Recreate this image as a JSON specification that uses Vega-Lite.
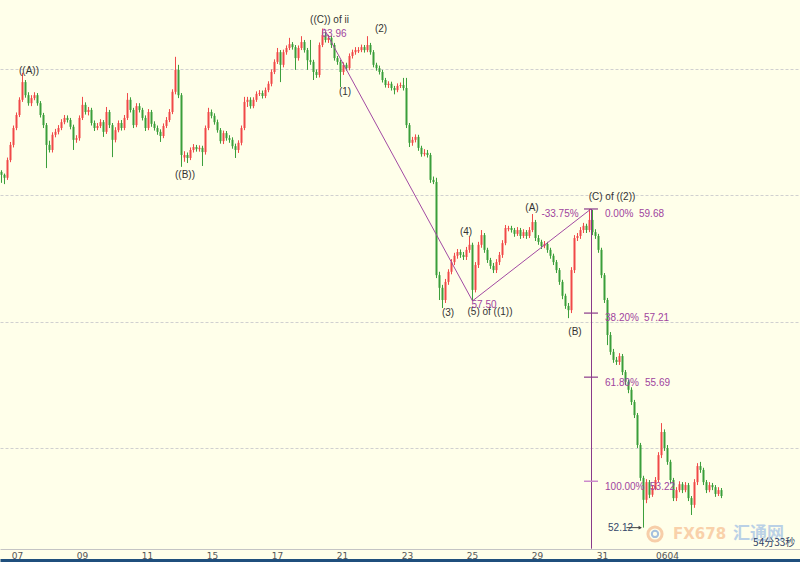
{
"$schema": "https://vega.github.io/schema/vega-lite/v6.json",
"width": 800, "height": 549,
"autosize": {"type": "none"},
"padding": {"left": 0, "top": 0, "right": 0, "bottom": 13},
"background": "#FFFFEA",
"config": {"view": {"stroke": null}, "font": "Liberation Sans"},
"datasets": {
"candles": [
{"i":0,"o":60.56,"h":60.60,"l":60.30,"c":60.49},
{"i":1,"o":60.49,"h":60.52,"l":60.27,"c":60.42},
{"i":2,"o":60.42,"h":60.90,"l":60.37,"c":60.84},
{"i":3,"o":60.84,"h":61.27,"l":60.79,"c":61.20},
{"i":4,"o":61.20,"h":61.66,"l":61.14,"c":61.60},
{"i":5,"o":61.60,"h":61.97,"l":61.55,"c":61.91},
{"i":6,"o":61.91,"h":62.33,"l":61.86,"c":62.27},
{"i":7,"o":62.27,"h":62.91,"l":62.22,"c":62.69},
{"i":8,"o":62.69,"h":62.74,"l":62.32,"c":62.38},
{"i":9,"o":62.38,"h":62.45,"l":62.13,"c":62.19},
{"i":10,"o":62.19,"h":62.38,"l":62.12,"c":62.31},
{"i":11,"o":62.31,"h":62.45,"l":62.26,"c":62.38},
{"i":12,"o":62.38,"h":62.43,"l":62.13,"c":62.19},
{"i":13,"o":62.19,"h":62.24,"l":61.85,"c":61.91},
{"i":14,"o":61.91,"h":61.96,"l":61.60,"c":61.67},
{"i":15,"o":61.67,"h":61.72,"l":60.65,"c":61.20},
{"i":16,"o":61.20,"h":61.30,"l":61.02,"c":61.08},
{"i":17,"o":61.08,"h":61.50,"l":61.02,"c":61.44},
{"i":18,"o":61.44,"h":61.58,"l":61.38,"c":61.51},
{"i":19,"o":61.51,"h":61.67,"l":61.45,"c":61.60},
{"i":20,"o":61.60,"h":61.81,"l":61.55,"c":61.74},
{"i":21,"o":61.74,"h":61.91,"l":61.69,"c":61.84},
{"i":22,"o":61.84,"h":61.90,"l":61.73,"c":61.79},
{"i":23,"o":61.79,"h":61.84,"l":61.57,"c":61.63},
{"i":24,"o":61.63,"h":61.68,"l":61.08,"c":61.32},
{"i":25,"o":61.32,"h":61.43,"l":61.25,"c":61.36},
{"i":26,"o":61.36,"h":61.90,"l":61.30,"c":61.84},
{"i":27,"o":61.84,"h":62.34,"l":61.79,"c":62.15},
{"i":28,"o":62.15,"h":62.21,"l":61.92,"c":61.98},
{"i":29,"o":61.98,"h":62.10,"l":61.90,"c":62.03},
{"i":30,"o":62.03,"h":62.08,"l":61.66,"c":61.72},
{"i":31,"o":61.72,"h":61.78,"l":61.53,"c":61.60},
{"i":32,"o":61.60,"h":61.72,"l":61.55,"c":61.65},
{"i":33,"o":61.65,"h":61.81,"l":61.60,"c":61.74},
{"i":34,"o":61.74,"h":61.79,"l":61.39,"c":61.51},
{"i":35,"o":61.51,"h":62.10,"l":61.46,"c":61.98},
{"i":36,"o":61.98,"h":62.03,"l":61.60,"c":61.67},
{"i":37,"o":61.67,"h":61.72,"l":60.91,"c":61.32},
{"i":38,"o":61.32,"h":61.62,"l":61.26,"c":61.55},
{"i":39,"o":61.55,"h":61.78,"l":61.50,"c":61.72},
{"i":40,"o":61.72,"h":61.79,"l":61.54,"c":61.60},
{"i":41,"o":61.60,"h":61.91,"l":61.55,"c":61.84},
{"i":42,"o":61.84,"h":62.43,"l":61.79,"c":62.27},
{"i":43,"o":62.27,"h":62.33,"l":61.97,"c":62.03},
{"i":44,"o":62.03,"h":62.08,"l":61.60,"c":61.67},
{"i":45,"o":61.67,"h":62.19,"l":61.62,"c":62.12},
{"i":46,"o":62.12,"h":62.19,"l":61.97,"c":62.03},
{"i":47,"o":62.03,"h":62.08,"l":61.78,"c":61.84},
{"i":48,"o":61.84,"h":61.90,"l":61.53,"c":61.60},
{"i":49,"o":61.60,"h":62.05,"l":61.55,"c":61.98},
{"i":50,"o":61.98,"h":62.03,"l":61.63,"c":61.70},
{"i":51,"o":61.70,"h":61.76,"l":61.54,"c":61.60},
{"i":52,"o":61.60,"h":61.66,"l":61.44,"c":61.51},
{"i":53,"o":61.51,"h":61.57,"l":61.27,"c":61.41},
{"i":54,"o":61.41,"h":61.71,"l":61.36,"c":61.65},
{"i":55,"o":61.65,"h":61.86,"l":61.60,"c":61.79},
{"i":56,"o":61.79,"h":62.05,"l":61.74,"c":61.98},
{"i":57,"o":61.98,"h":62.52,"l":61.93,"c":62.46},
{"i":58,"o":62.46,"h":63.29,"l":62.40,"c":62.98},
{"i":59,"o":62.98,"h":63.10,"l":62.31,"c":62.38},
{"i":60,"o":62.38,"h":62.43,"l":60.68,"c":60.96},
{"i":61,"o":60.90,"h":61.05,"l":60.80,"c":60.96},
{"i":62,"o":60.96,"h":61.02,"l":60.77,"c":60.89},
{"i":63,"o":60.89,"h":61.14,"l":60.84,"c":61.08},
{"i":64,"o":61.08,"h":61.22,"l":61.02,"c":61.15},
{"i":65,"o":61.15,"h":61.20,"l":61.04,"c":61.10},
{"i":66,"o":61.10,"h":61.19,"l":61.04,"c":61.13},
{"i":67,"o":61.13,"h":61.18,"l":60.70,"c":61.03},
{"i":68,"o":61.03,"h":61.66,"l":60.97,"c":61.60},
{"i":69,"o":61.60,"h":62.08,"l":61.55,"c":61.98},
{"i":70,"o":61.98,"h":62.04,"l":61.83,"c":61.89},
{"i":71,"o":61.89,"h":61.95,"l":61.68,"c":61.74},
{"i":72,"o":61.74,"h":61.80,"l":61.49,"c":61.55},
{"i":73,"o":61.55,"h":61.60,"l":61.23,"c":61.29},
{"i":74,"o":61.29,"h":61.54,"l":61.22,"c":61.48},
{"i":75,"o":61.48,"h":61.53,"l":61.30,"c":61.36},
{"i":76,"o":61.36,"h":61.43,"l":61.25,"c":61.32},
{"i":77,"o":61.32,"h":61.38,"l":61.11,"c":61.17},
{"i":78,"o":61.17,"h":61.23,"l":60.89,"c":61.08},
{"i":79,"o":61.08,"h":61.31,"l":61.01,"c":61.25},
{"i":80,"o":61.25,"h":61.66,"l":61.19,"c":61.60},
{"i":81,"o":61.60,"h":62.34,"l":61.55,"c":62.22},
{"i":82,"o":62.22,"h":62.34,"l":62.10,"c":62.27},
{"i":83,"o":62.27,"h":62.33,"l":62.06,"c":62.12},
{"i":84,"o":62.12,"h":62.33,"l":62.07,"c":62.27},
{"i":85,"o":62.27,"h":62.47,"l":62.22,"c":62.41},
{"i":86,"o":62.41,"h":62.50,"l":62.36,"c":62.43},
{"i":87,"o":62.43,"h":62.49,"l":62.30,"c":62.36},
{"i":88,"o":62.36,"h":62.56,"l":62.31,"c":62.50},
{"i":89,"o":62.50,"h":62.71,"l":62.45,"c":62.65},
{"i":90,"o":62.65,"h":62.99,"l":62.59,"c":62.93},
{"i":91,"o":62.93,"h":63.23,"l":62.88,"c":63.17},
{"i":92,"o":63.17,"h":63.50,"l":63.12,"c":63.40},
{"i":93,"o":63.40,"h":63.45,"l":62.69,"c":63.10},
{"i":94,"o":63.10,"h":63.46,"l":63.04,"c":63.40},
{"i":95,"o":63.40,"h":63.56,"l":63.34,"c":63.50},
{"i":96,"o":63.50,"h":63.74,"l":63.45,"c":63.59},
{"i":97,"o":63.59,"h":63.64,"l":63.46,"c":63.52},
{"i":98,"o":63.52,"h":63.57,"l":62.98,"c":63.26},
{"i":99,"o":63.26,"h":63.56,"l":63.20,"c":63.50},
{"i":100,"o":63.50,"h":63.78,"l":63.45,"c":63.64},
{"i":101,"o":63.64,"h":63.69,"l":63.39,"c":63.45},
{"i":102,"o":63.45,"h":63.50,"l":62.98,"c":63.21},
{"i":103,"o":63.21,"h":63.69,"l":63.10,"c":63.17},
{"i":104,"o":63.17,"h":63.22,"l":62.74,"c":62.93},
{"i":105,"o":62.93,"h":62.99,"l":62.79,"c":62.86},
{"i":106,"o":62.86,"h":63.63,"l":62.80,"c":63.57},
{"i":107,"o":63.57,"h":63.96,"l":63.52,"c":63.81},
{"i":108,"o":63.81,"h":63.88,"l":63.63,"c":63.69},
{"i":109,"o":63.69,"h":63.81,"l":63.62,"c":63.74},
{"i":110,"o":63.74,"h":63.79,"l":63.50,"c":63.57},
{"i":111,"o":63.57,"h":63.62,"l":63.20,"c":63.26},
{"i":112,"o":63.26,"h":63.31,"l":63.10,"c":63.17},
{"i":113,"o":63.17,"h":63.22,"l":62.57,"c":62.93},
{"i":114,"o":62.93,"h":63.16,"l":62.86,"c":63.10},
{"i":115,"o":63.10,"h":63.15,"l":62.96,"c":63.02},
{"i":116,"o":63.02,"h":63.37,"l":62.97,"c":63.31},
{"i":117,"o":63.31,"h":63.46,"l":63.25,"c":63.40},
{"i":118,"o":63.40,"h":63.52,"l":63.34,"c":63.45},
{"i":119,"o":63.42,"h":63.52,"l":63.38,"c":63.45},
{"i":120,"o":63.45,"h":63.58,"l":63.40,"c":63.52},
{"i":121,"o":63.52,"h":63.57,"l":63.39,"c":63.45},
{"i":122,"o":63.45,"h":63.78,"l":63.40,"c":63.57},
{"i":123,"o":63.57,"h":63.62,"l":63.34,"c":63.40},
{"i":124,"o":63.40,"h":63.45,"l":63.04,"c":63.10},
{"i":125,"o":63.10,"h":63.15,"l":62.96,"c":63.02},
{"i":126,"o":63.02,"h":63.08,"l":62.87,"c":62.93},
{"i":127,"o":62.93,"h":62.98,"l":62.68,"c":62.74},
{"i":128,"o":62.74,"h":62.79,"l":62.56,"c":62.62},
{"i":129,"o":62.62,"h":62.71,"l":62.55,"c":62.65},
{"i":130,"o":62.65,"h":62.70,"l":62.49,"c":62.55},
{"i":131,"o":62.55,"h":62.60,"l":62.40,"c":62.50},
{"i":132,"o":62.50,"h":62.66,"l":62.45,"c":62.60},
{"i":133,"o":62.60,"h":62.68,"l":62.55,"c":62.62},
{"i":134,"o":62.62,"h":62.79,"l":62.49,"c":62.55},
{"i":135,"o":62.55,"h":62.79,"l":61.60,"c":61.67},
{"i":136,"o":61.67,"h":61.72,"l":61.15,"c":61.25},
{"i":137,"o":61.25,"h":61.39,"l":61.18,"c":61.32},
{"i":138,"o":61.32,"h":61.45,"l":61.26,"c":61.39},
{"i":139,"o":61.39,"h":61.44,"l":61.06,"c":61.13},
{"i":140,"o":61.13,"h":61.18,"l":60.92,"c":60.98},
{"i":141,"o":60.98,"h":61.10,"l":60.93,"c":61.01},
{"i":142,"o":61.01,"h":61.08,"l":60.90,"c":60.96},
{"i":143,"o":60.96,"h":61.01,"l":60.30,"c":60.37},
{"i":144,"o":60.37,"h":60.45,"l":60.27,"c":60.32},
{"i":145,"o":60.32,"h":60.42,"l":58.04,"c":58.11},
{"i":146,"o":58.11,"h":58.19,"l":57.52,"c":57.81},
{"i":147,"o":57.81,"h":57.88,"l":57.33,"c":57.52},
{"i":148,"o":57.52,"h":58.02,"l":57.45,"c":57.95},
{"i":149,"o":57.95,"h":58.25,"l":57.88,"c":58.19},
{"i":150,"o":58.19,"h":58.49,"l":58.13,"c":58.42},
{"i":151,"o":58.42,"h":58.64,"l":58.35,"c":58.57},
{"i":152,"o":58.57,"h":58.73,"l":58.50,"c":58.66},
{"i":153,"o":58.66,"h":58.72,"l":58.52,"c":58.59},
{"i":154,"o":58.59,"h":58.66,"l":58.47,"c":58.54},
{"i":155,"o":58.54,"h":58.78,"l":58.47,"c":58.71},
{"i":156,"o":58.71,"h":59.02,"l":58.64,"c":58.83},
{"i":157,"o":58.83,"h":58.88,"l":57.50,"c":57.76},
{"i":158,"o":57.76,"h":58.42,"l":57.70,"c":58.35},
{"i":159,"o":58.35,"h":58.90,"l":58.28,"c":58.83},
{"i":160,"o":58.83,"h":59.18,"l":58.76,"c":59.06},
{"i":161,"o":59.06,"h":59.11,"l":58.64,"c":58.71},
{"i":162,"o":58.71,"h":58.76,"l":58.40,"c":58.47},
{"i":163,"o":58.47,"h":58.52,"l":58.26,"c":58.33},
{"i":164,"o":58.33,"h":58.40,"l":58.16,"c":58.23},
{"i":165,"o":58.23,"h":58.49,"l":58.16,"c":58.42},
{"i":166,"o":58.42,"h":58.66,"l":58.35,"c":58.59},
{"i":167,"o":58.59,"h":58.94,"l":58.52,"c":58.87},
{"i":168,"o":58.87,"h":59.30,"l":58.82,"c":59.23},
{"i":169,"o":59.20,"h":59.28,"l":59.15,"c":59.23},
{"i":170,"o":59.23,"h":59.28,"l":59.12,"c":59.18},
{"i":171,"o":59.18,"h":59.23,"l":59.02,"c":59.09},
{"i":172,"o":59.09,"h":59.25,"l":59.04,"c":59.18},
{"i":173,"o":59.18,"h":59.23,"l":58.97,"c":59.04},
{"i":174,"o":59.04,"h":59.20,"l":58.99,"c":59.13},
{"i":175,"o":59.13,"h":59.18,"l":58.97,"c":59.04},
{"i":176,"o":59.04,"h":59.25,"l":58.99,"c":59.18},
{"i":177,"o":59.18,"h":59.56,"l":59.13,"c":59.37},
{"i":178,"o":59.37,"h":59.42,"l":58.92,"c":58.99},
{"i":179,"o":58.99,"h":59.06,"l":58.83,"c":58.90},
{"i":180,"o":58.90,"h":58.95,"l":58.73,"c":58.80},
{"i":181,"o":58.80,"h":58.92,"l":58.75,"c":58.85},
{"i":182,"o":58.85,"h":58.90,"l":58.64,"c":58.71},
{"i":183,"o":58.71,"h":58.76,"l":58.50,"c":58.57},
{"i":184,"o":58.57,"h":58.62,"l":58.35,"c":58.42},
{"i":185,"o":58.42,"h":58.47,"l":58.16,"c":58.23},
{"i":186,"o":58.23,"h":58.28,"l":57.88,"c":57.95},
{"i":187,"o":57.95,"h":58.00,"l":57.54,"c":57.62},
{"i":188,"o":57.62,"h":57.67,"l":57.31,"c":57.38},
{"i":189,"o":57.38,"h":57.45,"l":57.09,"c":57.28},
{"i":190,"o":57.28,"h":58.30,"l":57.21,"c":58.23},
{"i":191,"o":58.23,"h":59.06,"l":58.16,"c":58.99},
{"i":192,"o":58.99,"h":59.11,"l":58.92,"c":59.04},
{"i":193,"o":59.04,"h":59.25,"l":58.97,"c":59.18},
{"i":194,"o":59.18,"h":59.35,"l":59.11,"c":59.28},
{"i":195,"o":59.28,"h":59.33,"l":59.11,"c":59.18},
{"i":196,"o":59.18,"h":59.68,"l":59.13,"c":59.42},
{"i":197,"o":59.42,"h":59.66,"l":59.06,"c":59.13},
{"i":198,"o":59.13,"h":59.20,"l":58.97,"c":59.04},
{"i":199,"o":59.04,"h":59.09,"l":58.64,"c":58.71},
{"i":200,"o":58.71,"h":58.76,"l":58.04,"c":58.11},
{"i":201,"o":58.11,"h":58.16,"l":57.45,"c":57.52},
{"i":202,"o":57.52,"h":57.57,"l":56.45,"c":56.69},
{"i":203,"o":56.69,"h":56.76,"l":56.22,"c":56.29},
{"i":204,"o":56.29,"h":56.36,"l":56.03,"c":56.10},
{"i":205,"o":56.10,"h":56.17,"l":55.98,"c":56.05},
{"i":206,"o":56.05,"h":56.26,"l":55.98,"c":56.19},
{"i":207,"o":56.19,"h":56.24,"l":55.74,"c":55.81},
{"i":208,"o":55.81,"h":55.86,"l":55.50,"c":55.58},
{"i":209,"o":55.58,"h":55.63,"l":55.31,"c":55.39},
{"i":210,"o":55.39,"h":55.45,"l":55.03,"c":55.10},
{"i":211,"o":55.10,"h":55.15,"l":54.72,"c":54.79},
{"i":212,"o":54.79,"h":54.84,"l":54.01,"c":54.08},
{"i":213,"o":54.08,"h":54.13,"l":53.23,"c":53.30},
{"i":214,"o":53.30,"h":53.35,"l":52.12,"c":52.78},
{"i":215,"o":52.78,"h":53.27,"l":52.70,"c":53.20},
{"i":216,"o":53.20,"h":53.25,"l":52.82,"c":52.90},
{"i":217,"o":52.90,"h":53.13,"l":52.85,"c":53.06},
{"i":218,"o":53.06,"h":53.32,"l":53.01,"c":53.25},
{"i":219,"o":53.25,"h":53.91,"l":53.20,"c":53.84},
{"i":220,"o":53.84,"h":54.60,"l":53.77,"c":54.39},
{"i":221,"o":54.39,"h":54.45,"l":53.94,"c":54.01},
{"i":222,"o":54.01,"h":54.08,"l":53.61,"c":53.68},
{"i":223,"o":53.68,"h":53.73,"l":53.18,"c":53.25},
{"i":224,"o":53.25,"h":53.30,"l":52.75,"c":52.82},
{"i":225,"o":52.82,"h":53.08,"l":52.75,"c":53.01},
{"i":226,"o":53.01,"h":53.22,"l":52.96,"c":53.15},
{"i":227,"o":53.15,"h":53.20,"l":52.94,"c":53.01},
{"i":228,"o":53.01,"h":53.20,"l":52.96,"c":53.13},
{"i":229,"o":53.13,"h":53.18,"l":52.75,"c":52.82},
{"i":230,"o":52.82,"h":52.87,"l":52.42,"c":52.66},
{"i":231,"o":52.66,"h":53.27,"l":52.59,"c":53.20},
{"i":232,"o":53.20,"h":53.65,"l":53.13,"c":53.58},
{"i":233,"o":53.58,"h":53.68,"l":53.42,"c":53.49},
{"i":234,"o":53.49,"h":53.54,"l":53.13,"c":53.20},
{"i":235,"o":53.20,"h":53.25,"l":52.94,"c":53.01},
{"i":236,"o":53.01,"h":53.20,"l":52.96,"c":53.13},
{"i":237,"o":53.13,"h":53.18,"l":53.01,"c":53.08},
{"i":238,"o":53.08,"h":53.13,"l":52.85,"c":52.92},
{"i":239,"o":52.92,"h":53.08,"l":52.87,"c":53.01},
{"i":240,"o":53.01,"h":53.06,"l":52.82,"c":52.87}
],
"waves": [
{"i":9.17,"p":62.95,"t":"((A))"},
{"i":61.17,"p":60.49,"t":"((B))"},
{"i":109.33,"p":64.16,"t":"((C)) of ii"},
{"i":114.5,"p":62.46,"t":"(1)"},
{"i":126.5,"p":63.95,"t":"(2)"},
{"i":148.83,"p":57.21,"t":"(3)"},
{"i":154.83,"p":59.13,"t":"(4)"},
{"i":162.83,"p":57.24,"t":"(5) of ((1))"},
{"i":176.83,"p":59.70,"t":"(A)"},
{"i":191.17,"p":56.76,"t":"(B)"},
{"i":203.5,"p":59.96,"t":"(C) of ((2))"}
],
"purple": [
{"i":110.83,"p":63.83,"t":"63.96"},
{"i":160.83,"p":57.40,"t":"57.50"},
{"i":186.17,"p":59.56,"t":"-33.75%"}
],
"fibtext": [
{"i":201.17,"p":59.56,"t":"0.00%"},
{"i":212.5,"p":59.56,"t":"59.68"},
{"i":201.17,"p":57.09,"t":"38.20%"},
{"i":214.17,"p":57.09,"t":"57.21"},
{"i":201.17,"p":55.55,"t":"61.80%"},
{"i":214.5,"p":55.55,"t":"55.69"},
{"i":201.17,"p":53.08,"t":"100.00%"},
{"i":216.17,"p":53.08,"t":"53.22"}
],
"fibticks": [
{"a":194.17,"b":198.83,"v":59.68},
{"a":194.17,"b":198.83,"v":57.21},
{"a":194.17,"b":198.83,"v":55.69}
],
"fibtick100": [
{"a":194.17,"b":198.83,"v":53.22}
],
"waveline": [
{"i":107.5,"p":63.96,"n":1},
{"i":157,"p":57.50,"n":2},
{"i":196.5,"p":59.68,"n":3}
]
},
"layer": [
{
"data": {"name": "candles"},
"mark": {"type": "rule", "strokeWidth": 1},
"encoding": {
"x": {"field": "i", "type": "quantitative",
"scale": {"domain": [-0.5, 266.1667], "nice": false, "zero": false},
"axis": {"orient": "bottom", "values": [5.17,26.83,48.5,70.17,91.83,113.5,135.17,156.83,178.5,200.17,221.83],
"labelExpr": "['07','09','11','15','17','21','23','25','29','31','0604'][round((datum.value-5.17)/21.667)]",
"ticks": false, "grid": false, "title": null, "domainColor": "#c4c4c4", "labelColor": "#555555",
"labelFontSize": 9, "labelFont": "DejaVu Sans", "labelPadding": 2, "labelFlush": false, "labelOverlap": false}},
"y": {"field": "l", "type": "quantitative",
"scale": {"domain": [51.613, 64.638], "nice": false, "zero": false},
"axis": {"values": [54, 57, 60, 63], "grid": true, "gridDash": [3, 2], "gridColor": "#d0d0d0",
"labels": false, "ticks": false, "domain": false, "title": null}},
"y2": {"field": "h"},
"color": {"condition": {"test": "datum.c >= datum.o", "value": "#F04848"}, "value": "#3A9E3A"}
}
},
{
"data": {"name": "candles"},
"mark": {"type": "rule", "strokeWidth": 2},
"encoding": {
"x": {"field": "i", "type": "quantitative",
"axis": {"orient": "bottom", "offset": 11, "domainColor": "#1F4F7D", "domainWidth": 3,
"labels": false, "ticks": false, "grid": false, "title": null}},
"y": {"field": "o", "type": "quantitative"},
"y2": {"field": "c"},
"color": {"condition": {"test": "datum.c >= datum.o", "value": "#F04848"}, "value": "#3A9E3A"}
}
},
{
"data": {"name": "waveline"},
"mark": {"type": "line", "color": "#A24AA2", "strokeWidth": 1},
"encoding": {
"x": {"field": "i", "type": "quantitative", "axis": null},
"y": {"field": "p", "type": "quantitative"},
"order": {"field": "n"}
}
},
{
"data": {"values": [{"i": 196.6667, "top": 59.68, "bot": 51.62}]},
"mark": {"type": "rule", "color": "#8A3A8A", "strokeWidth": 1},
"encoding": {
"x": {"field": "i", "type": "quantitative", "axis": null},
"y": {"field": "top", "type": "quantitative"},
"y2": {"field": "bot"}
}
},
{
"data": {"name": "fibticks"},
"mark": {"type": "rule", "color": "#8A3A8A", "strokeWidth": 1.2},
"encoding": {
"x": {"field": "a", "type": "quantitative", "axis": null},
"x2": {"field": "b"},
"y": {"field": "v", "type": "quantitative"}
}
},
{
"data": {"name": "fibtick100"},
"mark": {"type": "rule", "color": "#CC8ACC", "strokeWidth": 1.5},
"encoding": {
"x": {"field": "a", "type": "quantitative", "axis": null},
"x2": {"field": "b"},
"y": {"field": "v", "type": "quantitative"}
}
},
{
"data": {"name": "waves"},
"mark": {"type": "text", "fontSize": 10, "color": "#333333", "align": "center", "baseline": "middle"},
"encoding": {
"x": {"field": "i", "type": "quantitative", "axis": null},
"y": {"field": "p", "type": "quantitative"},
"text": {"field": "t"}
}
},
{
"data": {"name": "purple"},
"mark": {"type": "text", "fontSize": 10, "color": "#A0449E", "align": "center", "baseline": "middle"},
"encoding": {
"x": {"field": "i", "type": "quantitative", "axis": null},
"y": {"field": "p", "type": "quantitative"},
"text": {"field": "t"}
}
},
{
"data": {"name": "fibtext"},
"mark": {"type": "text", "fontSize": 10, "color": "#A0449E", "align": "left", "baseline": "middle"},
"encoding": {
"x": {"field": "i", "type": "quantitative", "axis": null},
"y": {"field": "p", "type": "quantitative"},
"text": {"field": "t"}
}
},
{
"data": {"values": [{"i": 202.17, "p": 52.11, "t": "52.12"}]},
"mark": {"type": "text", "fontSize": 10, "color": "#34466A", "align": "left", "baseline": "middle"},
"encoding": {
"x": {"field": "i", "type": "quantitative", "axis": null},
"y": {"field": "p", "type": "quantitative"},
"text": {"field": "t"}
}
},
{
"data": {"values": [{"a": 208.3, "b": 213.2, "p": 52.12}]},
"mark": {"type": "rule", "color": "#444444", "strokeWidth": 1},
"encoding": {
"x": {"field": "a", "type": "quantitative", "axis": null},
"x2": {"field": "b"},
"y": {"field": "p", "type": "quantitative"}
}
},
{
"data": {"values": [{"i": 212.9, "p": 52.12}]},
"mark": {"type": "point", "shape": "triangle-right", "size": 14, "filled": true, "color": "#444444", "opacity": 1},
"encoding": {
"x": {"field": "i", "type": "quantitative", "axis": null},
"y": {"field": "p", "type": "quantitative"}
}
},
{
"data": {"values": [{"i": 217.83, "p": 51.97}]},
"mark": {"type": "point", "shape": "circle", "size": 200, "filled": false, "stroke": "#F6C39A", "strokeWidth": 3, "opacity": 0.8},
"encoding": {
"x": {"field": "i", "type": "quantitative", "axis": null},
"y": {"field": "p", "type": "quantitative"}
}
},
{
"data": {"values": [{"i": 217.83, "p": 51.97}]},
"mark": {"type": "point", "shape": "circle", "size": 40, "filled": false, "stroke": "#9DBBDD", "strokeWidth": 2, "opacity": 0.9},
"encoding": {
"x": {"field": "i", "type": "quantitative", "axis": null},
"y": {"field": "p", "type": "quantitative"}
}
},
{
"data": {"values": [{"i": 223.83, "p": 51.97, "t": "FX678"}]},
"mark": {"type": "text", "fontSize": 15, "fontWeight": "bold", "font": "DejaVu Sans", "color": "#F8C9A0", "opacity": 0.85, "align": "left", "baseline": "middle"},
"encoding": {
"x": {"field": "i", "type": "quantitative", "axis": null},
"y": {"field": "p", "type": "quantitative"},
"text": {"field": "t"}
}
},
{
"data": {"values": [{"i": 243.83, "p": 51.97, "t": "汇通网"}]},
"mark": {"type": "text", "fontSize": 17, "fontWeight": "bold", "font": "Noto Sans CJK SC", "color": "#AFC9E6", "opacity": 0.85, "align": "left", "baseline": "middle"},
"encoding": {
"x": {"field": "i", "type": "quantitative", "axis": null},
"y": {"field": "p", "type": "quantitative"},
"text": {"field": "t"}
}
},
{
"data": {"values": [{"i": 264.6, "p": 51.76, "t": "54分33秒"}]},
"mark": {"type": "text", "fontSize": 10, "font": "Noto Sans CJK SC", "color": "#2E3F66", "align": "right", "baseline": "middle"},
"encoding": {
"x": {"field": "i", "type": "quantitative", "axis": null},
"y": {"field": "p", "type": "quantitative"},
"text": {"field": "t"}
}
}
],
"resolve": {"axis": {"x": "independent"}}
}
